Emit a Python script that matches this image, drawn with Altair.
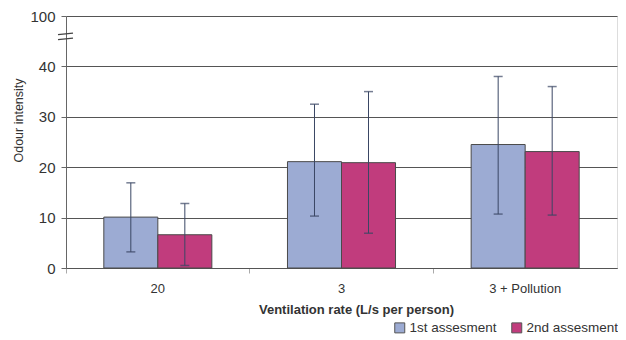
import altair as alt
import pandas as pd

categories = ["20", "3", "3 + Pollution"]
series = ["1st assesment", "2nd assesment"]
first_mean = [10.1, 21.1, 24.5]
second_mean = [6.6, 20.9, 23.1]
first_low = [3.2, 10.3, 10.7]
first_high = [16.9, 32.5, 38.0]
second_low = [0.5, 6.9, 10.5]
second_high = [12.8, 35.0, 36.0]
# broken axis: the top tick (drawn at 50) is labelled 100
y_ticks = [0, 10, 20, 30, 40, 50]
y_tick_labels = ["0", "10", "20", "30", "40", "100"]
break_low = [45.3, 46.3]
break_high = [45.6, 46.6]

colors = ["#9cabd3", "#c13c7d"]
FONT = "Liberation Sans"

rows = []
for i, c in enumerate(categories):
    rows.append({"cat": c, "series": series[0], "mean": first_mean[i],
                 "low": first_low[i], "high": first_high[i]})
    rows.append({"cat": c, "series": series[1], "mean": second_mean[i],
                 "low": second_low[i], "high": second_high[i]})
df = pd.DataFrame(rows)

label_map = "{" + ",".join(f"'{v}':'{l}'" for v, l in zip(y_ticks, y_tick_labels)) + "}"

x_enc = alt.X(
    "cat:N", sort=categories,
    scale=alt.Scale(paddingInner=0, paddingOuter=0),
    axis=alt.Axis(
        title="Ventilation rate (L/s per person)", labelAngle=0, bandPosition=0,
        labelFontSize=13, labelColor="#333", labelFont=FONT,
        labelPadding=9, tickSize=5, tickColor="#aaa", domainColor="#555",
        titleFont=FONT, titleFontSize=13, titleFontWeight="bold", titleColor="#333",
        titleX=290, titleY=35, titleBaseline="top", titleAnchor="middle", grid=False,
    ),
)
xo_enc = alt.XOffset("series:N", sort=series,
                     scale=alt.Scale(paddingInner=0, paddingOuter=0.70))
y_scale = alt.Scale(domain=[0, 50], nice=False)

bars = alt.Chart(df).mark_bar(stroke="#4a4a4a", strokeWidth=1).encode(
    x=x_enc,
    xOffset=xo_enc,
    y=alt.Y(
        "mean:Q", scale=y_scale,
        axis=alt.Axis(
            title="Odour intensity", values=y_ticks,
            labelExpr=f"{label_map}[datum.value + ''] || datum.label",
            labelFontSize=15, labelColor="#333", labelFont=FONT, labelPadding=6,
            tickSize=5, tickColor="#666", domainColor="#666",
            grid=True, gridColor="#555", gridWidth=1,
            titleFont=FONT, titleFontSize=12.5, titleFontWeight="normal", titleColor="#333",
            titleX=-48, titleY=104, titleAngle=-90, titleAlign="center", titleBaseline="middle",
        ),
    ),
    fill=alt.Fill(
        "series:N", scale=alt.Scale(domain=series, range=colors),
        legend=alt.Legend(
            title=None, orient="none", direction="horizontal", legendX=327, legendY=305,
            symbolType="square", symbolSize=100, symbolStrokeColor="#555", symbolStrokeWidth=1,
            labelFontSize=13.5, labelFont=FONT, labelColor="#333", labelOffset=3,
            columnPadding=12, padding=0,
        ),
    ),
)

err_color = "#3a4664"
rules = alt.Chart(df).mark_rule(color=err_color, strokeWidth=1).encode(
    x=alt.X("cat:N", sort=categories), xOffset=alt.XOffset("series:N", sort=series),
    y=alt.Y("low:Q", scale=y_scale), y2="high:Q",
)
caps_hi = alt.Chart(df).mark_tick(color=err_color, size=9, thickness=1.5).encode(
    x=alt.X("cat:N", sort=categories), xOffset=alt.XOffset("series:N", sort=series),
    y=alt.Y("high:Q", scale=y_scale),
)
caps_lo = alt.Chart(df).mark_tick(color=err_color, size=9, thickness=1.5).encode(
    x=alt.X("cat:N", sort=categories), xOffset=alt.XOffset("series:N", sort=series),
    y=alt.Y("low:Q", scale=y_scale),
)

brk_df = pd.DataFrame({"lo": break_low, "hi": break_high})
breaks = alt.Chart(brk_df).mark_rule(color="#444", strokeWidth=1.3).encode(
    x=alt.value(-8), x2=alt.value(7),
    y=alt.Y("lo:Q", scale=y_scale), y2="hi:Q",
)

chart = alt.layer(bars, rules, caps_hi, caps_lo, breaks).properties(
    width=551, height=252,
    padding={"left": 58, "top": 8, "right": 1, "bottom": 72},
    autosize=alt.AutoSizeParams(type="none"),
).configure_view(stroke=None).configure(background="white")

chart.save("out.html", embed_options={"renderer": "svg", "actions": False})
